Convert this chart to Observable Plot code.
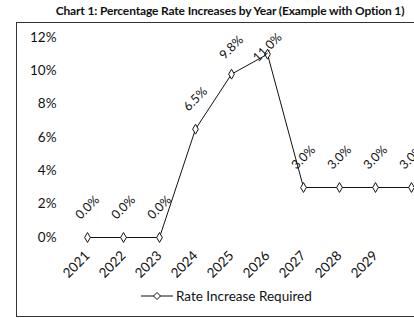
<!DOCTYPE html>
<html><head><meta charset="utf-8">
<script src="https://cdn.jsdelivr.net/npm/d3@7"></script>
<script src="https://cdn.jsdelivr.net/npm/@observablehq/plot@0.6"></script>
<style>
html,body{margin:0;padding:0;overflow:hidden;background:#fff;width:414px;height:318px;}
#wrap{position:relative;width:414px;height:318px;overflow:hidden;font-family:Lato,"Open Sans",sans-serif;color:#111;}
#title{position:absolute;left:30px;width:400px;top:3px;text-align:center;font-weight:bold;font-size:12px;letter-spacing:-0.15px;white-space:nowrap;}
#frame{position:absolute;left:16px;top:22px;width:420px;height:293px;border:1px solid #333;}
#chart{position:absolute;left:0;top:0;}
#legend{position:absolute;left:140px;top:288px;font-size:13.5px;display:flex;align-items:center;white-space:nowrap;}
</style></head>
<body><div id="wrap">
<div id="frame"></div>
<div id="title">Chart 1: Percentage Rate Increases by Year (Example with Option 1)</div>
<div id="chart"></div>
<div id="legend"><svg width="36" height="10"><line x1="1" y1="5" x2="33" y2="5" stroke="#111" stroke-width="1"/><path d="M17,1.5L20.5,5L17,8.5L13.5,5Z" fill="#fff" stroke="#111"/></svg><span>Rate Increase Required</span></div>
</div>
<script>
const years = [2021, 2022, 2023, 2024, 2025, 2026, 2027, 2028, 2029, 2030];
const rates = [0.0, 0.0, 0.0, 6.5, 9.8, 11.0, 3.0, 3.0, 3.0, 3.0];
const yTicks = [0, 2, 4, 6, 8, 10, 12];
const xTicks = [2021, 2022, 2023, 2024, 2025, 2026, 2027, 2028, 2029];

const data = years.map((y, i) => ({year: y, rate: rates[i]}));

const chart = Plot.plot({
  width: 414,
  height: 318,
  marginLeft: 58,
  marginTop: 37,
  marginBottom: 73,
  marginRight: 0,
  style: {fontFamily: "Lato, 'Open Sans', sans-serif", color: "#111", background: "transparent", overflow: "hidden"},
  x: {type: "linear", domain: [2021, 2030], range: [87, 411]},
  y: {domain: [0, 12], range: [237, 37]},
  marks: [
    Plot.axisY({ticks: yTicks, tickFormat: d => d + "%", tickSize: 0, tickPadding: 2, fontSize: 13.5, label: null}),
    Plot.axisX({ticks: xTicks, tickFormat: d => String(d), tickSize: 0, tickPadding: 8, tickRotate: -45, fontSize: 13.5, label: null}),
    Plot.line(data, {x: "year", y: "rate", stroke: "#111", strokeWidth: 1}),
    Plot.dot(data, {x: "year", y: "rate", symbol: "diamond", r: 3, fill: "#fff", stroke: "#111", strokeWidth: 1}),
    // labels kept inside the plot area (as the spreadsheet does) by capping their anchor
    Plot.text(data, {x: "year", y: d => Math.min(d.rate, 9.6), text: d => d.rate.toFixed(1) + "%", dy: -30, rotate: -45, fontSize: 12.5, fill: "#111"})
  ]
});
document.getElementById("chart").appendChild(chart);
</script>
</body></html>
